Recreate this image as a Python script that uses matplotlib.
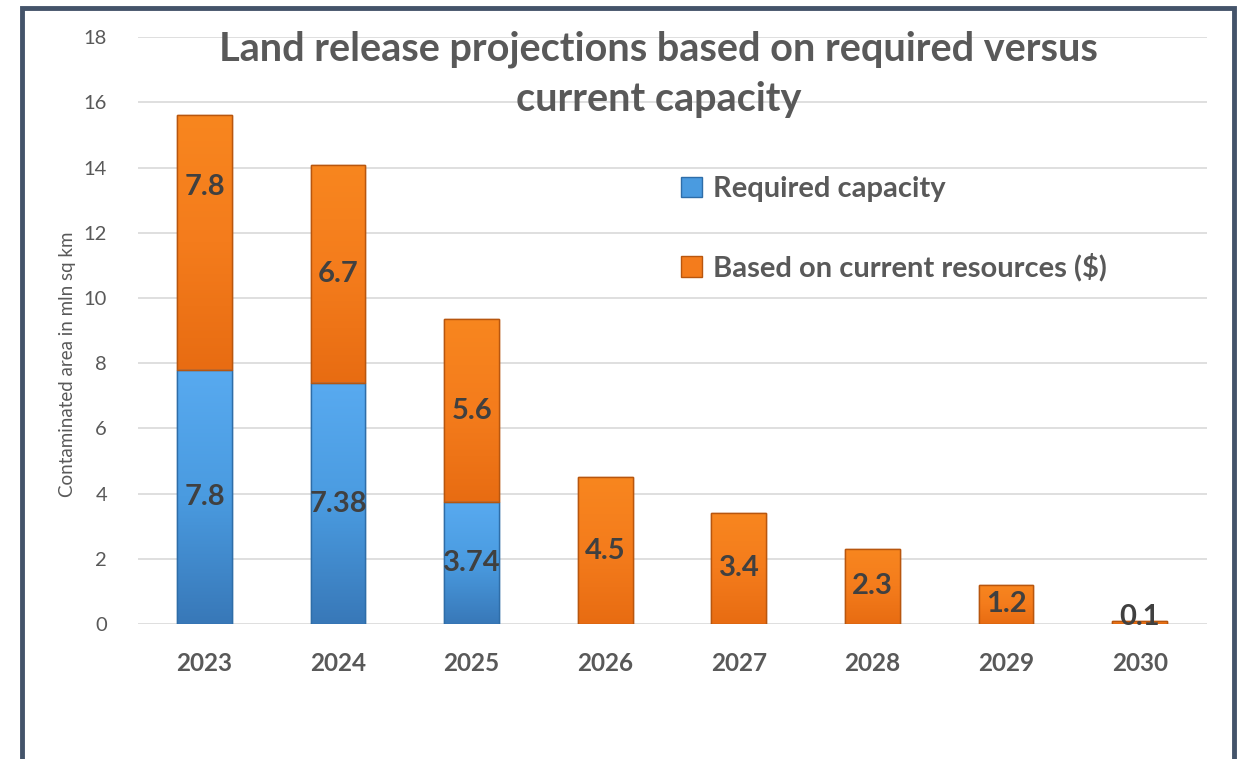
import numpy as np
import matplotlib.pyplot as plt
from matplotlib.patches import Rectangle
from matplotlib.colors import LinearSegmentedColormap

# data
years = ['2023', '2024', '2025', '2026', '2027', '2028', '2029', '2030']
required = [7.8, 7.38, 3.74, 0, 0, 0, 0, 0]
current = [7.8, 6.7, 5.6, 4.5, 3.4, 2.3, 1.2, 0.1]

plt.rcParams['font.family'] = ['Lato', 'DejaVu Sans']

fig = plt.figure(figsize=(12.4, 7.59), dpi=100)
ax = fig.add_axes([0.111, 0.178, 0.862, 0.773])

x = range(len(years))
bw = 0.41

b1 = ax.bar(x, required, width=bw, color='#4A9BE0', edgecolor='#2E6DA8', linewidth=1.0,
            label='Required capacity', zorder=3)
b2 = ax.bar(x, current, width=bw, bottom=required, color='#F47C1C', edgecolor='#B8560E',
            linewidth=1.0, label='Based on current resources ($)', zorder=3)

# vertical gradient fill clipped to each bar
blue_cm = LinearSegmentedColormap.from_list('b', ['#3878B8', '#4A9BE0', '#58AAF0'])
orange_cm = LinearSegmentedColormap.from_list('o', ['#E86C12', '#F47C1C', '#F8861F'])
grad = np.linspace(0, 1, 256).reshape(-1, 1)
for bars, cm in ((b1, blue_cm), (b2, orange_cm)):
    for p in bars:
        if p.get_height() <= 0:
            continue
        x0, y0 = p.get_x(), p.get_y()
        im = ax.imshow(grad, cmap=cm, aspect='auto', origin='lower',
                       extent=(x0, x0 + p.get_width(), y0, y0 + p.get_height()), zorder=3.5)
        im.set_clip_path(p)
        # keep the outline visible over the gradient
        ax.add_patch(Rectangle((x0, y0), p.get_width(), p.get_height(), fill=False,
                               edgecolor=p.get_edgecolor(), linewidth=1.0, zorder=3.6))

# data labels (the top 2023 label sits higher in the original)
lbl_kw = dict(ha='center', va='center', fontsize=21, fontweight='bold', color='#404040', zorder=4)
for i in x:
    if required[i] > 0:
        ax.text(i, required[i] / 2, f'{required[i]:g}', **lbl_kw)
    mid = required[i] + current[i] / 2
    if i == 0:
        mid = required[i] + current[i] * 0.72
    if current[i] < 0.5:
        mid = required[i] + 0.22
    ax.text(i, mid, f'{current[i]:g}', **lbl_kw)

ax.set_xlim(-0.5, len(years) - 0.5)
ax.set_ylim(0, 18)
ax.set_yticks(range(0, 19, 2))
ax.set_xticks(list(x))
ax.set_xticklabels(years, fontsize=17.5, fontweight='bold', color='#595959')
ax.tick_params(axis='y', labelsize=14.5, labelcolor='#595959', length=0, pad=22)
ax.tick_params(axis='x', length=0, pad=20)
ax.grid(axis='y', color='#D9D9D9', linewidth=1.2, zorder=0)
for s in ax.spines.values():
    s.set_visible(False)

fig.text(68 / 1240, 1 - 364 / 759, 'Contaminated area in mln sq km', rotation=90,
         ha='center', va='center', fontsize=13.5, color='#595959')

fig.text(0.531, 1 - 74 / 759, 'Land release projections based on required versus\ncurrent capacity',
         ha='center', va='center', fontsize=28.5, fontweight='bold', color='#595959',
         linespacing=1.42)

leg = ax.legend(loc='upper left', bbox_to_anchor=(0.484, 0.808), frameon=False,
                handlelength=0.7, handleheight=0.7, handletextpad=0.4,
                labelspacing=1.75, labelcolor='#595959',
                prop={'weight': 'bold', 'size': 21})

# outer frame, open at the bottom
fig.patches.append(Rectangle((0.018, -0.05), 0.977, 1.04, transform=fig.transFigure,
                             fill=False, edgecolor='#44546A', linewidth=3.5))

fig.savefig('out.png', dpi=100)
